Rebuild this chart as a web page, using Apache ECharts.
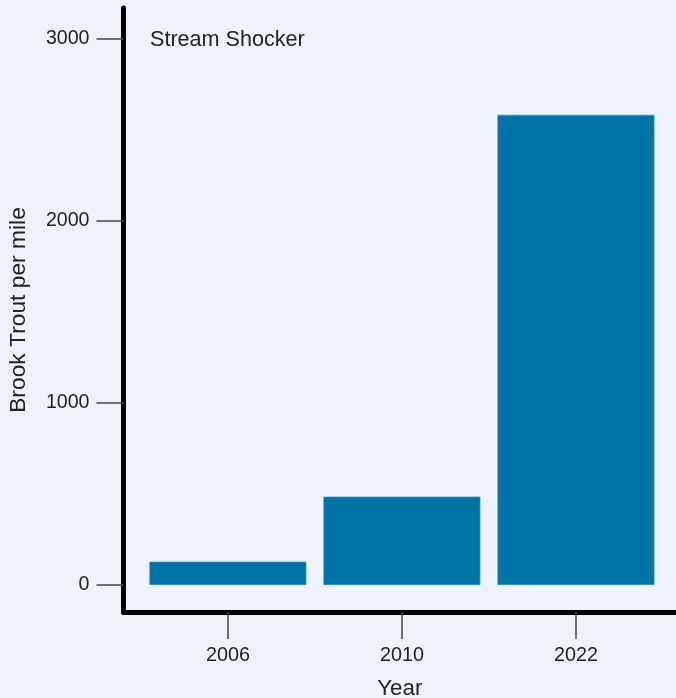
<!DOCTYPE html>
<html>
<head>
<meta charset="utf-8">
<script src="https://cdn.jsdelivr.net/npm/echarts@6/dist/echarts.min.js"></script>
<style>
html,body{margin:0;padding:0;background:#eef3fa;}
#chart{width:676px;height:698px;}
</style>
</head>
<body>
<div id="chart"></div>
<script>
const categories = ['2006', '2010', '2022'];
const values = [128, 485, 2580];
const yTicks = [0, 1000, 2000, 3000];
const titleText = 'Stream Shocker';
const xName = 'Year';
const yName = 'Brook Trout per mile';

const chart = echarts.init(document.getElementById('chart'), null, {renderer: 'canvas'});
const font = 'Liberation Sans, Arial, sans-serif';
const txt = '#222222';
chart.setOption({
  backgroundColor: '#eef3fa',
  animation: false,
  title: {
    text: titleText, left: 150, top: 29, padding: 0,
    textStyle: {fontFamily: font, fontSize: 21.6, fontWeight: 'normal', color: txt}
  },
  grid: {left: 123.5, right: 0, top: 8, bottom: 86, containLabel: false, outerBoundsMode: 'none'},
  xAxis: {
    type: 'value', min: -0.6, max: 2.575,
    name: xName, nameLocation: 'middle', nameGap: 66,
    nameTextStyle: {fontFamily: font, fontSize: 22.4, color: txt},
    axisLine: {show: true, onZero: false, lineStyle: {color: '#000', width: 5}},
    axisTick: {show: true, length: 27, customValues: [0, 1, 2], lineStyle: {color: '#444', width: 1.5}},
    axisLabel: {show: true, margin: 34, customValues: [0, 1, 2],
      formatter: v => categories[Math.round(v)] || '',
      fontFamily: font, fontSize: 19.8, color: txt},
    splitLine: {show: false}
  },
  yAxis: {
    type: 'value', min: -148, max: 3166,
    name: yName, nameLocation: 'middle', nameGap: 93,
    nameTextStyle: {fontFamily: font, fontSize: 22.8, color: txt},
    axisLine: {show: true, onZero: false, lineStyle: {color: '#000', width: 5}},
    axisTick: {show: true, length: 27, customValues: yTicks, lineStyle: {color: '#444', width: 1.5}},
    axisLabel: {show: true, margin: 34, customValues: yTicks,
      formatter: v => String(v),
      fontFamily: font, fontSize: 19.6, color: txt},
    splitLine: {show: false}
  },
  series: [{
    type: 'bar',
    data: values.map((v, i) => [i, v]),
    barWidth: 157,
    itemStyle: {color: '#0073a6', borderColor: '#3d8fbd', borderWidth: 0.8}
  }]
});
</script>
</body>
</html>
